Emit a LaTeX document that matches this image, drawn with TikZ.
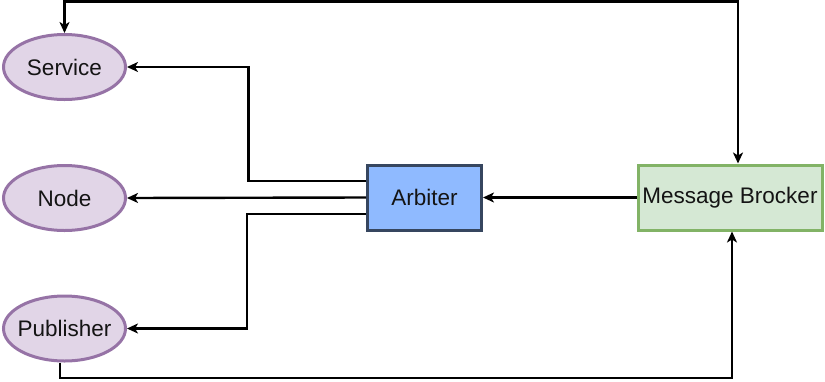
\documentclass[tikz,border=0pt]{standalone}
\usepackage{fontspec}
\setmainfont{Liberation Sans}
\usetikzlibrary{shapes.geometric,arrows.meta}

\definecolor{purpfill}{HTML}{E1D5E7}
\definecolor{purpline}{HTML}{9673A6}
\definecolor{bluefill}{HTML}{8FBAFF}
\definecolor{blueline}{HTML}{36465F}
\definecolor{greenfill}{HTML}{D5E8D4}
\definecolor{greenline}{HTML}{82B366}
\definecolor{txt}{HTML}{141414}

\tikzset{
  label font/.style={font=\fontsize{22.5}{27}\selectfont, text=txt},
  oval/.style={ellipse, draw=purpline, fill=purpfill, line width=3pt,
    minimum width=122pt, minimum height=65pt, inner xsep=-12pt, inner ysep=0pt, label font},
  box/.style={rectangle, line width=3pt, minimum height=65pt, inner sep=0pt, label font},
  conn/.style={line width=2.4pt, draw=black},
  tip/.style={-{Stealth[length=11pt,width=10pt,inset=3pt]}},
  twotip/.style={{Stealth[length=11pt,width=10pt,inset=3pt]}-{Stealth[length=11pt,width=10pt,inset=3pt]}}
}

\begin{document}
\begin{tikzpicture}[x=1pt,y=-1pt]
  \useasboundingbox (0,0) rectangle (825,381);

  % endpoints
  \node[oval] (svc) at (64.5,67) {Service};
  \node[oval] (nod) at (64.5,198) {Node};
  \node[oval] (pub) at (64.5,328.5) {Publisher};

  % middle and right blocks
  \node[box, draw=blueline, fill=bluefill, minimum width=114pt] (arb) at (424.5,197.5) {Arbiter};
  \node[box, draw=greenline, fill=greenfill, minimum width=184pt] (mb) at (730,197.5) {Message Brocker};

  % arbiter fan-out
  \draw[conn, tip] ([yshift=16.5pt]arb.west) -- ++(-117.5,0) |- (svc.east);
  \draw[conn, tip] (arb.west) -- (nod.east);
  \draw[conn, tip] ([yshift=-16.5pt]arb.west) -- ++(-119,0) |- (pub.east);

  % broker to arbiter
  \draw[conn, tip] (mb.west) -- (arb.east);

  % loop over the top between broker and service
  \draw[conn, twotip] ([xshift=8pt]mb.north) -- ++(0,-162) -| (svc.north);

  % publisher back to broker along the bottom
  \draw[conn, tip] ([xshift=-4.5pt]pub.south) -- ++(0,15.5) -| ([xshift=2pt]mb.south);
\end{tikzpicture}
\end{document}
